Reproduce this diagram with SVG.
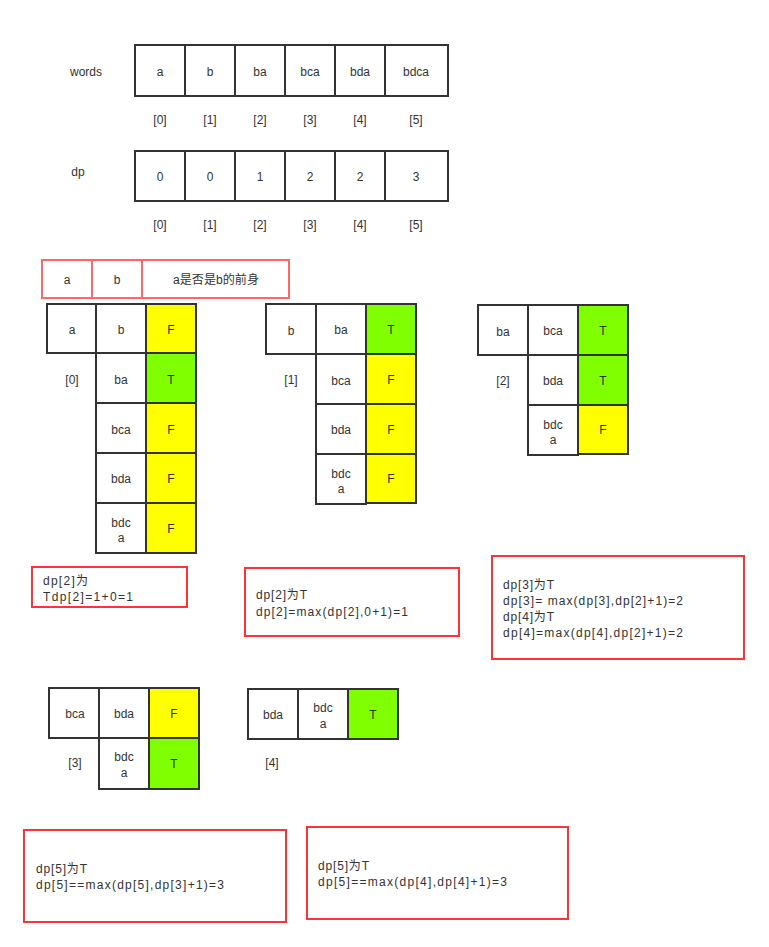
<svg xmlns="http://www.w3.org/2000/svg" width="769" height="947" viewBox="0 0 769 947">
<style>
text{font-family:"Liberation Sans","Noto Sans CJK SC",sans-serif;font-size:12px;fill:#333;}
.c{text-anchor:middle;dominant-baseline:central;}
.l{dominant-baseline:central;}
.cell{fill:#fff;stroke:#333;stroke-width:2;}
.y{fill:#ffff00;stroke:#333;stroke-width:2;}
.g{fill:#80ff00;stroke:#333;stroke-width:2;}
.hd{fill:#fff;stroke:#ff6666;stroke-width:2;}
.note{fill:#fff;stroke:#ff3333;stroke-width:2;}
</style>
<rect width="769" height="947" fill="#fff"/>

<g id="words">
<text class="c" x="86" y="72">words</text>
<rect class="cell" x="135" y="45" width="50" height="51"/><text class="c" x="160" y="72">a</text>
<rect class="cell" x="185" y="45" width="50" height="51"/><text class="c" x="210" y="72">b</text>
<rect class="cell" x="235" y="45" width="50" height="51"/><text class="c" x="260" y="72">ba</text>
<rect class="cell" x="285" y="45" width="50" height="51"/><text class="c" x="310" y="72">bca</text>
<rect class="cell" x="335" y="45" width="50" height="51"/><text class="c" x="360" y="72">bda</text>
<rect class="cell" x="385" y="45" width="63" height="51"/><text class="c" x="416" y="72">bdca</text>
<text class="c" x="160" y="120">[0]</text>
<text class="c" x="210" y="120">[1]</text>
<text class="c" x="260" y="120">[2]</text>
<text class="c" x="310" y="120">[3]</text>
<text class="c" x="360" y="120">[4]</text>
<text class="c" x="416" y="120">[5]</text>
</g>

<g id="dp">
<text class="c" x="78" y="172">dp</text>
<rect class="cell" x="135" y="151" width="50" height="50"/><text class="c" x="160" y="177">0</text>
<rect class="cell" x="185" y="151" width="50" height="50"/><text class="c" x="210" y="177">0</text>
<rect class="cell" x="235" y="151" width="50" height="50"/><text class="c" x="260" y="177">1</text>
<rect class="cell" x="285" y="151" width="50" height="50"/><text class="c" x="310" y="177">2</text>
<rect class="cell" x="335" y="151" width="50" height="50"/><text class="c" x="360" y="177">2</text>
<rect class="cell" x="385" y="151" width="63" height="50"/><text class="c" x="416" y="177">3</text>
<text class="c" x="160" y="225">[0]</text>
<text class="c" x="210" y="225">[1]</text>
<text class="c" x="260" y="225">[2]</text>
<text class="c" x="310" y="225">[3]</text>
<text class="c" x="360" y="225">[4]</text>
<text class="c" x="416" y="225">[5]</text>
</g>

<g id="header">
<rect class="hd" x="42" y="260" width="50" height="38"/><text class="c" x="67" y="280">a</text>
<rect class="hd" x="92" y="260" width="50" height="38"/><text class="c" x="117" y="280">b</text>
<rect class="hd" x="142" y="260" width="147" height="38"/><text class="c" x="216" y="280" textLength="86" lengthAdjust="spacingAndGlyphs">a是否是b的前身</text>
</g>

<g id="group0">
<rect class="cell" x="47" y="304" width="49" height="49"/><text class="c" x="72" y="330">a</text>
<rect class="cell" x="96" y="304" width="50" height="49"/><text class="c" x="121" y="330">b</text>
<rect class="y" x="146" y="304" width="50" height="49"/><text class="c" x="171" y="330">F</text>
<text class="c" x="72" y="380">[0]</text>
<rect class="cell" x="96" y="353" width="50" height="50"/><text class="c" x="121" y="380">ba</text>
<rect class="g" x="146" y="353" width="50" height="50"/><text class="c" x="171" y="380">T</text>
<rect class="cell" x="96" y="403" width="50" height="50"/><text class="c" x="121" y="430">bca</text>
<rect class="y" x="146" y="403" width="50" height="50"/><text class="c" x="171" y="430">F</text>
<rect class="cell" x="96" y="453" width="50" height="50"/><text class="c" x="121" y="479">bda</text>
<rect class="y" x="146" y="453" width="50" height="50"/><text class="c" x="171" y="479">F</text>
<rect class="cell" x="96" y="503" width="50" height="50"/><text class="c" x="121" y="523">bdc</text><text class="c" x="121" y="538">a</text>
<rect class="y" x="146" y="503" width="50" height="50"/><text class="c" x="171" y="529">F</text>
</g>

<g id="group1">
<rect class="cell" x="266" y="304" width="50" height="50"/><text class="c" x="291" y="331">b</text>
<rect class="cell" x="316" y="304" width="50" height="50"/><text class="c" x="341" y="330">ba</text>
<rect class="g" x="366" y="304" width="50" height="50"/><text class="c" x="391" y="330">T</text>
<text class="c" x="291" y="380">[1]</text>
<rect class="cell" x="316" y="354" width="50" height="50"/><text class="c" x="341" y="381">bca</text>
<rect class="y" x="366" y="354" width="50" height="50"/><text class="c" x="391" y="380">F</text>
<rect class="cell" x="316" y="404" width="50" height="50"/><text class="c" x="341" y="430">bda</text>
<rect class="y" x="366" y="404" width="50" height="50"/><text class="c" x="391" y="430">F</text>
<rect class="cell" x="316" y="454" width="50" height="50"/><text class="c" x="341" y="474">bdc</text><text class="c" x="341" y="489">a</text>
<rect class="y" x="366" y="454" width="50" height="49"/><text class="c" x="391" y="479">F</text>
</g>

<g id="group2">
<rect class="cell" x="478" y="305" width="50" height="50"/><text class="c" x="503" y="332">ba</text>
<rect class="cell" x="528" y="305" width="50" height="50"/><text class="c" x="553" y="331">bca</text>
<rect class="g" x="578" y="305" width="50" height="50"/><text class="c" x="603" y="331">T</text>
<text class="c" x="503" y="381">[2]</text>
<rect class="cell" x="528" y="355" width="50" height="50"/><text class="c" x="553" y="381">bda</text>
<rect class="g" x="578" y="355" width="50" height="50"/><text class="c" x="603" y="381">T</text>
<rect class="cell" x="528" y="405" width="50" height="50"/><text class="c" x="553" y="425">bdc</text><text class="c" x="553" y="440">a</text>
<rect class="y" x="578" y="405" width="50" height="49"/><text class="c" x="603" y="430">F</text>
</g>

<g id="note1">
<rect class="note" x="32" y="567" width="155" height="40"/>
<text class="l" x="43" y="581" textLength="45" lengthAdjust="spacing">dp[2]为</text>
<text class="l" x="43" y="597" textLength="90" lengthAdjust="spacing">Tdp[2]=1+0=1</text>
</g>

<g id="note2">
<rect class="note" x="245" y="568" width="214" height="68"/>
<text class="l" x="256" y="595" textLength="51" lengthAdjust="spacing">dp[2]为T</text>
<text class="l" x="256" y="612" textLength="152" lengthAdjust="spacing">dp[2]=max(dp[2],0+1)=1</text>
</g>

<g id="note3">
<rect class="note" x="492" y="556" width="252" height="103"/>
<text class="l" x="503" y="585" textLength="51" lengthAdjust="spacing">dp[3]为T</text>
<text class="l" x="503" y="601" textLength="180" lengthAdjust="spacing">dp[3]= max(dp[3],dp[2]+1)=2</text>
<text class="l" x="503" y="617" textLength="51" lengthAdjust="spacing">dp[4]为T</text>
<text class="l" x="503" y="633" textLength="180" lengthAdjust="spacing">dp[4]=max(dp[4],dp[2]+1)=2</text>
</g>

<g id="group3">
<rect class="cell" x="49" y="688" width="50" height="50"/><text class="c" x="75" y="714">bca</text>
<rect class="cell" x="99" y="688" width="50" height="50"/><text class="c" x="124" y="714">bda</text>
<rect class="y" x="149" y="688" width="50" height="50"/><text class="c" x="174" y="714">F</text>
<text class="c" x="75" y="763">[3]</text>
<rect class="cell" x="99" y="738" width="50" height="51"/><text class="c" x="124" y="757">bdc</text><text class="c" x="124" y="773">a</text>
<rect class="g" x="149" y="738" width="50" height="51"/><text class="c" x="174" y="764">T</text>
</g>

<g id="group4">
<rect class="cell" x="248" y="689" width="50" height="50"/><text class="c" x="273" y="715">bda</text>
<rect class="cell" x="298" y="689" width="50" height="50"/><text class="c" x="323" y="708">bdc</text><text class="c" x="323" y="724">a</text>
<rect class="g" x="348" y="689" width="50" height="50"/><text class="c" x="373" y="715">T</text>
<text class="c" x="272" y="763">[4]</text>
</g>

<g id="note4">
<rect class="note" x="24" y="830" width="262" height="92"/>
<text class="l" x="36" y="869" textLength="51" lengthAdjust="spacing">dp[5]为T</text>
<text class="l" x="36" y="885" textLength="188" lengthAdjust="spacing">dp[5]==max(dp[5],dp[3]+1)=3</text>
</g>

<g id="note5">
<rect class="note" x="307" y="827" width="261" height="92"/>
<text class="l" x="318" y="866" textLength="51" lengthAdjust="spacing">dp[5]为T</text>
<text class="l" x="318" y="882" textLength="189" lengthAdjust="spacing">dp[5]==max(dp[4],dp[4]+1)=3</text>
</g>

<g id="connectors"></g>
</svg>
